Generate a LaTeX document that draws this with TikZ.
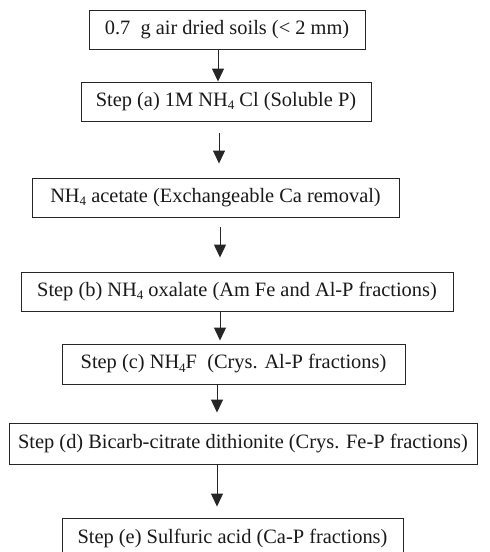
\documentclass[tikz,border=0pt]{standalone}
\usepackage{fontspec}
\setmainfont{Liberation Serif}
\usetikzlibrary{arrows.meta}
\newcommand{\subfour}{\raisebox{-0.35ex}{\fontsize{13}{13}\selectfont 4}}
\begin{document}
\begin{tikzpicture}[x=1pt,y=-1pt,
  stepbox/.style={draw=black!85,line width=0.9pt,inner sep=0pt,anchor=center,
    font=\fontsize{20.4}{24}\selectfont,text=black!90},
  flow/.style={draw=black!85,line width=1pt,-{Triangle[length=13pt,width=12pt]}}]
\useasboundingbox (0,0) rectangle (490,552);
\clip (0,0) rectangle (490,552);
\node[stepbox,minimum width=276pt,minimum height=39pt] (b1) at (227,29.5) {0.7\ \ g air dried soils (< 2 mm)};
\node[stepbox,minimum width=290pt,minimum height=39pt] (b2) at (226,101.5) {Step (a) 1M NH\subfour\ Cl (Soluble P)};
\node[stepbox,minimum width=367pt,minimum height=39pt] (b3) at (215.5,197.5) {NH\subfour\ acetate (Exchangeable Ca removal)};
\node[stepbox,minimum width=432pt,minimum height=39pt] (b4) at (237,291.5) {Step (b) NH\subfour\ oxalate (Am Fe and Al-P fractions)};
\node[stepbox,minimum width=343pt,minimum height=40pt] (b5) at (233.5,364) {Step (c) NH\subfour F\ \ (Crys. Al-P fractions)};
\node[stepbox,minimum width=468pt,minimum height=41pt] (b6) at (243,443.5) {Step (d) Bicarb-citrate dithionite (Crys. Fe-P fractions)};
\node[stepbox,minimum width=341pt,minimum height=40pt] (b7) at (232.5,538) {Step (e) Sulfuric acid (Ca-P fractions)};
\coordinate (xa) at (218,0);
\coordinate (xb) at (219,0);
\coordinate (xc) at (220,0);
\coordinate (xd) at (217,0);
\draw[flow] (b1.south -| xa) -- (b2.north -| xa);
\draw[flow,shorten <=12pt,shorten >=14pt] (b2.south -| xb) -- (b3.north -| xb);
\draw[flow,shorten <=10pt,shorten >=14pt] (b3.south -| xc) -- (b4.north -| xc);
\draw[flow,shorten >=3pt] (b4.south -| xc) -- (b5.north -| xc);
\draw[flow,shorten >=10pt] (b5.south -| xd) -- (b6.north -| xd);
\draw[flow,shorten >=11pt] (b6.south -| xd) -- (b7.north -| xd);
\end{tikzpicture}
\end{document}
